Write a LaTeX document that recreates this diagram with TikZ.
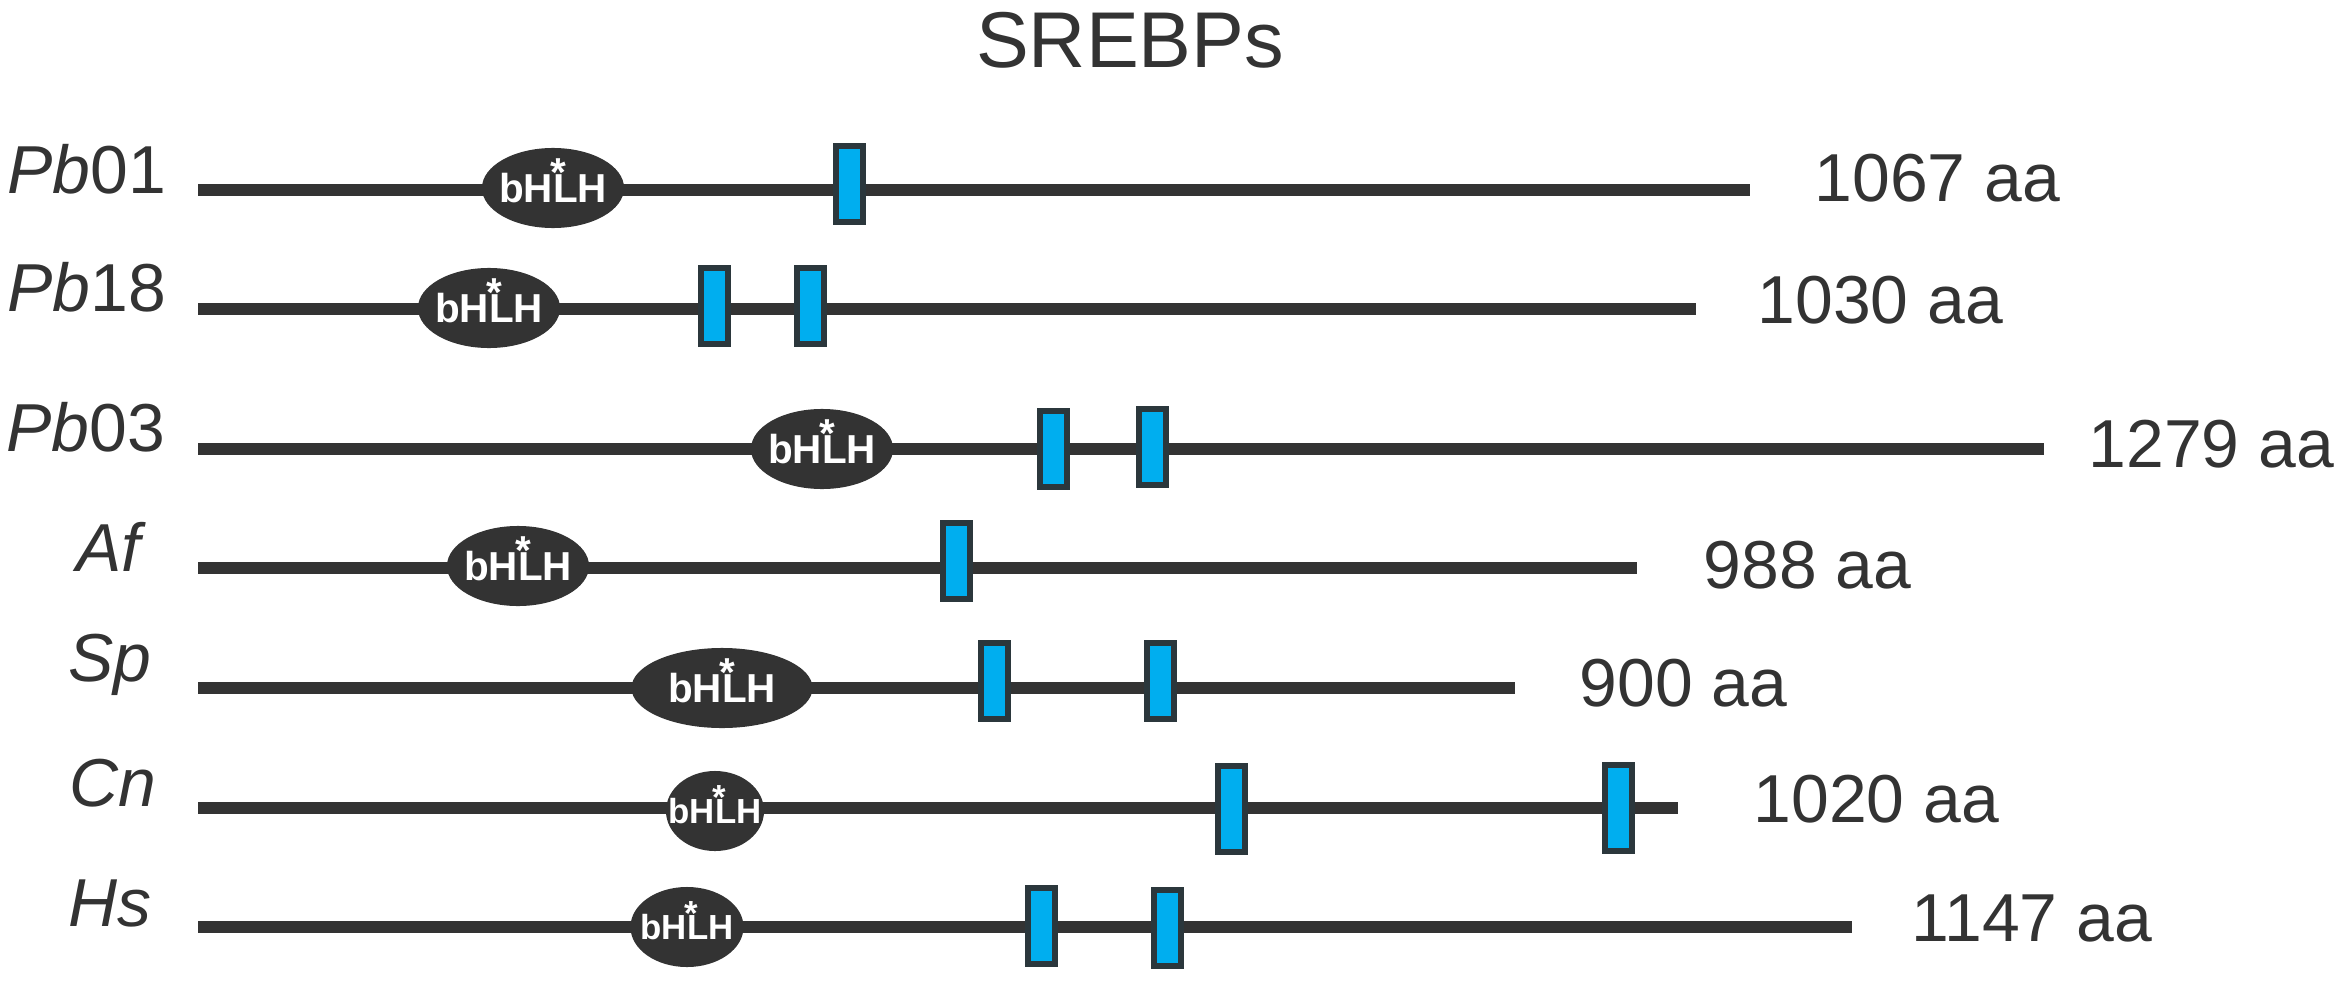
\documentclass[tikz,border=0pt]{standalone}
\usepackage{fontspec}
\setmainfont{Liberation Sans}
\usetikzlibrary{shapes.geometric}
\definecolor{chain}{HTML}{333333}
\definecolor{tmfill}{HTML}{00AEEF}
\definecolor{tmedge}{HTML}{2B373C}
\newcommand{\bhlh}{bH\rlap{\smash{\raisebox{0.39em}{\kern-0.07em*}}}LH}

\begin{document}
\begin{tikzpicture}[x=0.01cm,y=-0.01cm,
	protein/.style={draw=chain,line width=0.127cm},
	bhlh/.style={ellipse,fill=chain,inner sep=0pt,minimum width=1.42cm,minimum height=0.80cm},
	bhlhtext/.style={text=white,inner sep=0pt,font=\bfseries\fontsize{11.5}{12}\selectfont},
	tm/.style={rectangle,fill=tmfill,draw=tmedge,line width=0.06cm,inner sep=0pt,minimum width=0.27cm,minimum height=0.76cm},
	species/.style={anchor=base west,inner sep=0pt,text=chain,font=\fontsize{19.3}{22}\selectfont},
	length/.style={anchor=base west,inner sep=0pt,text=chain,font=\fontsize{19.3}{22}\selectfont},
	title/.style={anchor=base,inner sep=0pt,text=chain,font=\fontsize{22.5}{26}\selectfont}]
	\useasboundingbox (0,0) rectangle (2340,982);
	\node[title] (title) at (1130,68) {SREBPs};

	\coordinate (pb01_s) at (198,190);
	\coordinate (pb01_e) at (1750,190);
	\coordinate (pb18_s) at (198,309);
	\coordinate (pb18_e) at (1696,309);
	\coordinate (pb03_s) at (198,449);
	\coordinate (pb03_e) at (2044,449);
	\coordinate (af_s) at (198,568);
	\coordinate (af_e) at (1637,568);
	\coordinate (sp_s) at (198,688);
	\coordinate (sp_e) at (1515,688);
	\coordinate (cn_s) at (198,808);
	\coordinate (cn_e) at (1678,808);
	\coordinate (hs_s) at (198,927);
	\coordinate (hs_e) at (1852,927);
	\draw[protein] (pb01_s) -- (pb01_e);
	\draw[protein] (pb18_s) -- (pb18_e);
	\draw[protein] (pb03_s) -- (pb03_e);
	\draw[protein] (af_s) -- (af_e);
	\draw[protein] (sp_s) -- (sp_e);
	\draw[protein] (cn_s) -- (cn_e);
	\draw[protein] (hs_s) -- (hs_e);

	\node[species] (pb01) at (7,193) {\textit{Pb}01};
	\node[species] (pb18) at (7,311) {\textit{Pb}18};
	\node[species] (pb03) at (6,451) {\textit{Pb}03};
	\node[species] (af) at (76,571) {\textit{Af}};
	\node[species] (sp) at (68,681) {\textit{Sp}};
	\node[species] (cn) at (69,806) {\textit{Cn}};
	\node[species] (hs) at (68,926) {\textit{Hs}};

	\node[bhlh] (pb01_d) at (553,188) {};
	\node[bhlh] (pb18_d) at (489,308) {};
	\node[bhlh] (pb03_d) at (822,449) {};
	\node[bhlh] (af_d) at (518,566) {};
	\node[bhlh,minimum width=1.81cm] (sp_d) at (722,688) {};
	\node[bhlh,minimum width=0.98cm] (cn_d) at (715,811) {};
	\node[bhlh,minimum width=1.13cm] (hs_d) at (687,927) {};
	\node[bhlhtext] (pb01_t) at (pb01_d) {\bhlh};
	\node[bhlhtext] (pb18_t) at (pb18_d) {\bhlh};
	\node[bhlhtext] (pb03_t) at (pb03_d) {\bhlh};
	\node[bhlhtext] (af_t) at (af_d) {\bhlh};
	\node[bhlhtext] (sp_t) at (sp_d) {\bhlh};
	\node[bhlhtext,font=\bfseries\fontsize{9.9}{11}\selectfont] (cn_t) at (cn_d) {\bhlh};
	\node[bhlhtext,font=\bfseries\fontsize{9.9}{11}\selectfont] (hs_t) at (hs_d) {\bhlh};

	\node[tm] (pb01_m1) at (849,184) {};
	\node[tm] (pb18_m1) at (714,306) {};
	\node[tm] (pb18_m2) at (810,306) {};
	\node[tm] (pb03_m1) at (1053,449) {};
	\node[tm] (pb03_m2) at (1152,447) {};
	\node[tm] (af_m1) at (956,561) {};
	\node[tm] (sp_m1) at (994,681) {};
	\node[tm] (sp_m2) at (1160,681) {};
	\node[tm,minimum height=0.85cm] (cn_m1) at (1231,809) {};
	\node[tm,minimum height=0.85cm] (cn_m2) at (1618,808) {};
	\node[tm] (hs_m1) at (1041,926) {};
	\node[tm] (hs_m2) at (1167,928) {};

	\node[length] (pb01_n) at (1814,202) {1067 aa};
	\node[length] (pb18_n) at (1757,323) {1030 aa};
	\node[length] (pb03_n) at (2088,467) {1279 aa};
	\node[length] (af_n) at (1703,588) {988 aa};
	\node[length] (sp_n) at (1579,706) {900 aa};
	\node[length] (cn_n) at (1753,822) {1020 aa};
	\node[length] (hs_n) at (1911,941) {1147 aa};
\end{tikzpicture}
\end{document}
